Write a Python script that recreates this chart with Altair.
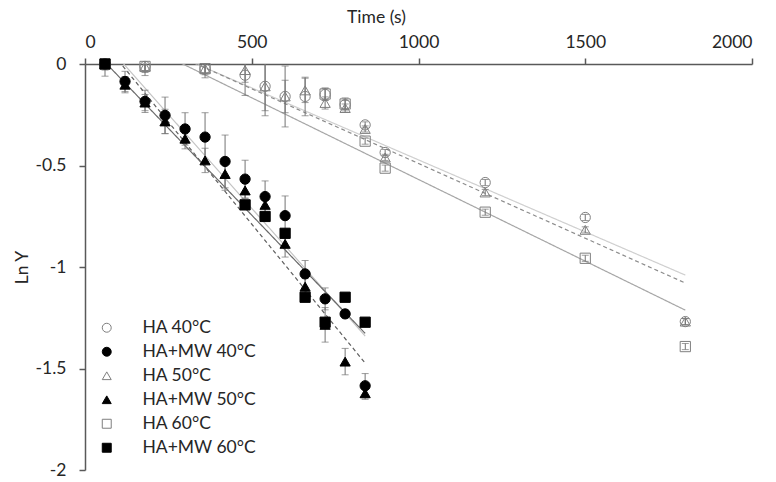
import altair as alt
import pandas as pd

series_order = ["HA 40°C", "HA+MW 40°C", "HA 50°C", "HA+MW 50°C", "HA 60°C", "HA+MW 60°C"]
fit_ids = ["fit1", "fit2", "fit3", "fit4", "fit5", "fit6"]

# HA 40°C (open circles)
t_ha40 = [60, 180, 360, 480, 540, 600, 660, 720, 780, 840, 900, 1200, 1500, 1800]
y_ha40 = [0, -0.012, -0.023, -0.055, -0.11, -0.16, -0.16, -0.15, -0.20, -0.30, -0.436, -0.584, -0.756, -1.269]
e_ha40 = [0, 0.045, 0.045, 0.10, 0.12, 0.15, 0.095, 0.03, 0.02, 0.015, 0.015, 0.015, 0.015, 0.015]

# HA+MW 40°C (filled circles)
t_mw = [60, 120, 180, 240, 300, 360, 420, 480, 540, 600, 660, 720, 780, 840]
y_mw40 = [0, -0.086, -0.184, -0.253, -0.32, -0.36, -0.48, -0.567, -0.653, -0.747, -1.034, -1.157, -1.231, -1.585]
e_mw40 = [0.06, 0.05, 0.055, 0.09, 0.08, 0.12, 0.13, 0.093, 0.077, 0.097, 0.066, 0.054, 0.02, 0.06]

# HA 50°C (open triangles)
t_ha50 = [60, 180, 360, 480, 540, 600, 660, 720, 780, 840, 900, 1200, 1500, 1800]
y_ha50 = [0, -0.012, -0.023, -0.03, -0.11, -0.16, -0.13, -0.192, -0.217, -0.32, -0.46, -0.633, -0.817, -1.269]
e_ha50 = [0, 0.03, 0.03, 0.06, 0.145, 0.08, 0.06, 0.03, 0.02, 0.015, 0.015, 0.015, 0.015, 0.015]

# HA+MW 50°C (filled triangles)
y_mw50 = [0, -0.102, -0.19, -0.283, -0.368, -0.475, -0.542, -0.623, -0.694, -0.886, -1.097, -1.285, -1.466, -1.622]
e_mw50 = [0.03, 0.04, 0.04, 0.06, 0.05, 0.06, 0.08, 0.04, 0.04, 0.065, 0.04, 0.085, 0.065, 0.03]

# HA 60°C (open squares)
t_ha60 = [60, 180, 360, 720, 780, 840, 900, 1200, 1500, 1800]
y_ha60 = [0, -0.012, -0.023, -0.148, -0.197, -0.38, -0.513, -0.73, -0.957, -1.392]
e_ha60 = [0, 0.02, 0.02, 0.03, 0.03, 0.015, 0.015, 0.015, 0.015, 0.015]

# HA+MW 60°C (filled squares)
t_mw60 = [60, 480, 540, 600, 660, 720, 780, 840]
y_mw60 = [0, -0.694, -0.751, -0.834, -1.149, -1.272, -1.149, -1.272]
e_mw60 = [0.0, 0.02, 0.02, 0.02, 0.02, 0.02, 0.01, 0.01]

rows = []
for name, fid, ts, ys, es in [
    ("HA 40°C", "fit1", t_ha40, y_ha40, e_ha40),
    ("HA+MW 40°C", "fit2", t_mw, y_mw40, e_mw40),
    ("HA 50°C", "fit3", t_ha50, y_ha50, e_ha50),
    ("HA+MW 50°C", "fit4", t_mw, y_mw50, e_mw50),
    ("HA 60°C", "fit5", t_ha60, y_ha60, e_ha60),
    ("HA+MW 60°C", "fit6", t_mw60, y_mw60, e_mw60),
]:
    for t, y, e in zip(ts, ys, es):
        rows.append({"series": name, "fit": fid, "t": t, "y": y, "err": e,
                     "lo": y - e, "hi": y + e})
df = pd.DataFrame(rows)

font = "Lato"
text_color = "#262626"
fs = 17.5

x_scale = alt.Scale(domain=[0, 2000], nice=False)
y_scale = alt.Scale(domain=[-2, 0], nice=False)

x_axis = alt.Axis(orient="top", values=[0, 500, 1000, 1500, 2000], title="Time (s)",
                  labelExpr="toString(datum.value)", grid=False, tickSize=6,
                  labelPadding=7, titlePadding=7, titleX=291)
y_axis = alt.Axis(values=[-2, -1.5, -1, -0.5, 0], title="Ln Y",
                  labelExpr="toString(datum.value)", grid=False, tickSize=6,
                  labelPadding=13, titlePadding=4)

base = alt.Chart(df)

line_colors = ["#cfcfcf", "#c4c4c4", "#8c8c8c", "#5f5f5f", "#a6a6a6", "#6a6a6a"]
line_dash = [[1, 0], [1, 0], [4, 3], [4, 3], [1, 0], [1, 0]]

lines = base.transform_regression("t", "y", groupby=["fit"]).mark_line(
    clip=True, strokeWidth=1.2
).encode(
    x=alt.X("t:Q", scale=x_scale, axis=x_axis),
    y=alt.Y("y:Q", scale=y_scale, axis=y_axis),
    color=alt.Color("fit:N", scale=alt.Scale(domain=fit_ids, range=line_colors), legend=None),
    strokeDash=alt.StrokeDash("fit:N", scale=alt.Scale(domain=fit_ids, range=line_dash), legend=None),
    detail="fit:N",
)

eb = base.transform_filter("datum.err > 0")
err_rule = eb.mark_rule(clip=True, color="#737373", strokeWidth=1).encode(
    x="t:Q", y="lo:Q", y2="hi:Q"
)
cap_lo = eb.mark_tick(clip=True, color="#737373", orient="horizontal", size=7, thickness=1).encode(
    x="t:Q", y="lo:Q"
)
cap_hi = eb.mark_tick(clip=True, color="#737373", orient="horizontal", size=7, thickness=1).encode(
    x="t:Q", y="hi:Q"
)

legend = alt.Legend(title=None, orient="bottom-left", offset=13)
shapes = ["circle", "circle", "triangle-up", "triangle-up", "square", "square"]
fills = ["transparent", "#000000", "transparent", "#000000", "transparent", "#000000"]
strokes = ["#7f7f7f", "#000000", "#7f7f7f", "#000000", "#7f7f7f", "#000000"]

points = base.mark_point(opacity=1, size=105, strokeWidth=1).encode(
    x="t:Q",
    y="y:Q",
    shape=alt.Shape("series:N", scale=alt.Scale(domain=series_order, range=shapes), legend=legend),
    fill=alt.Fill("series:N", scale=alt.Scale(domain=series_order, range=fills), legend=legend),
    stroke=alt.Stroke("series:N", scale=alt.Scale(domain=series_order, range=strokes), legend=legend),
)

chart = alt.layer(lines, err_rule, cap_lo, cap_hi, points).properties(
    width=667, height=406,
    autosize=alt.AutoSizeParams(type="none"),
    padding={"left": 77, "top": 56, "right": 16, "bottom": 12},
).configure_view(stroke=None).configure_axis(
    labelFont=font, titleFont=font, labelFontSize=fs, titleFontSize=fs,
    titleFontWeight="normal", labelColor=text_color, titleColor=text_color,
    domainColor="#595959", tickColor="#595959", domainWidth=1.5, tickWidth=1.5,
).configure_legend(
    labelFont=font, labelFontSize=fs, labelColor=text_color, symbolSize=80,
    symbolStrokeWidth=1, rowPadding=5, labelOffset=27, padding=0,
)

chart.save("out.html", embed_options={"renderer": "svg", "actions": False})
